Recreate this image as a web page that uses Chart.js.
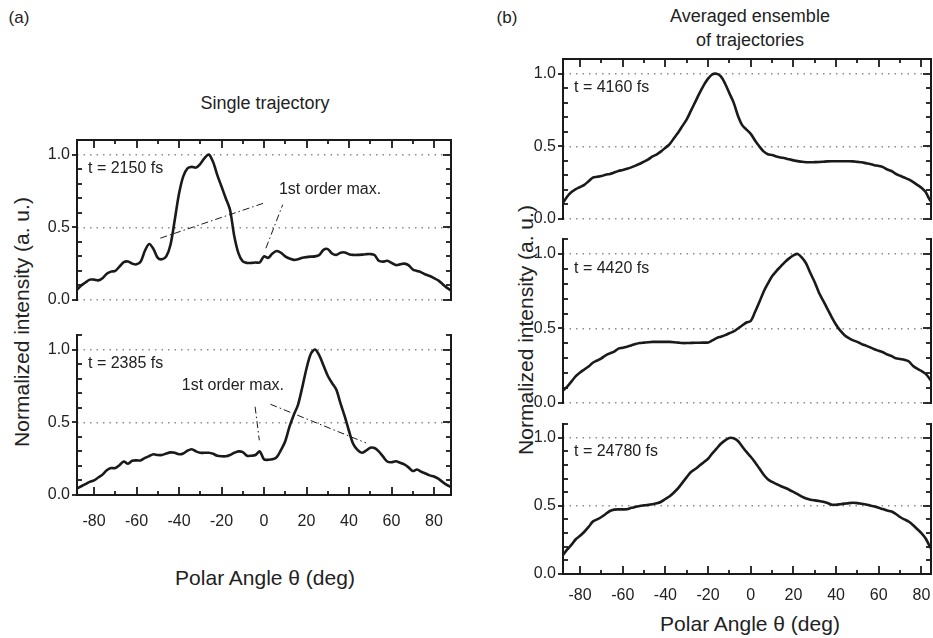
<!DOCTYPE html>
<html>
<head>
<meta charset="utf-8">
<script src="https://cdn.jsdelivr.net/npm/chart.js@4.4.1/dist/chart.umd.min.js"></script>
<style>
  body { margin: 0; background: #fff; font-family: "Liberation Sans", Arial, sans-serif; color: #222; }
  #page { position: relative; width: 933px; height: 638px; overflow: hidden; }
  canvas { position: absolute; }
  .lbl { position: absolute; white-space: nowrap; transform: translate(-50%, -50%); }
</style>
</head>
<body>
<div id="page">
  <div class="lbl" style="left:19px;top:18px;font-size:17px">(a)</div>
  <div class="lbl" style="left:507px;top:18px;font-size:17px">(b)</div>
  <div class="lbl" style="left:265px;top:103px;font-size:18px">Single trajectory</div>
  <div class="lbl" style="left:750px;top:16px;font-size:18px">Averaged ensemble</div>
  <div class="lbl" style="left:750px;top:40px;font-size:18px">of trajectories</div>
  <div class="lbl" style="left:22px;top:322px;font-size:21px;transform:translate(-50%,-50%) rotate(-90deg)">Normalized intensity (a. u.)</div>
  <div class="lbl" style="left:526px;top:330px;font-size:21px;transform:translate(-50%,-50%) rotate(-90deg)">Normalized intensity (a. u.)</div>
  <div class="lbl" style="left:265px;top:578px;font-size:21px">Polar Angle θ (deg)</div>
  <div class="lbl" style="left:750px;top:624px;font-size:21px">Polar Angle θ (deg)</div>
</div>
<script>
// polar angle samples (deg)
const angles = [-88,-86,-84,-82,-80,-78,-76,-74,-72,-70,-68,-66,-64,-62,-60,-58,-56,-54,-52,-50,
  -48,-46,-44,-42,-40,-38,-36,-34,-32,-30,-28,-26,-24,-22,-20,-18,-16,-14,-12,-10,-8,-6,-4,-2,
  0,2,4,6,8,10,12,14,16,18,20,22,24,26,28,30,32,34,36,38,40,42,44,46,48,50,52,54,56,58,60,
  62,64,66,68,70,72,74,76,78,80,82,84,86,88];

// (a) single trajectory
const single2150 = [0.07,0.10,0.12,0.14,0.14,0.135,0.15,0.18,0.195,0.20,0.23,0.26,0.265,0.25,0.245,0.265,0.34,0.385,0.35,0.29,
  0.28,0.30,0.38,0.55,0.73,0.85,0.905,0.915,0.91,0.935,0.975,1.0,0.95,0.86,0.78,0.70,0.62,0.44,0.32,0.265,0.255,0.255,0.258,0.258,
  0.30,0.29,0.32,0.337,0.325,0.30,0.285,0.276,0.28,0.29,0.295,0.298,0.30,0.31,0.345,0.35,0.32,0.31,0.325,0.327,0.315,0.31,0.31,0.312,0.315,0.316,0.31,0.27,0.264,0.27,0.255,
  0.24,0.245,0.25,0.24,0.21,0.20,0.19,0.175,0.165,0.15,0.135,0.11,0.085,0.065];
const single2385 = [0.045,0.06,0.075,0.09,0.10,0.12,0.14,0.17,0.185,0.185,0.205,0.23,0.215,0.235,0.238,0.238,0.255,0.268,0.28,0.275,
  0.275,0.285,0.293,0.29,0.28,0.285,0.305,0.315,0.30,0.29,0.29,0.29,0.283,0.27,0.266,0.266,0.275,0.29,0.30,0.295,0.27,0.27,0.275,0.30,
  0.245,0.242,0.245,0.26,0.31,0.37,0.47,0.55,0.62,0.74,0.87,0.97,1.0,0.96,0.89,0.82,0.77,0.725,0.63,0.54,0.44,0.35,0.31,0.29,0.305,0.325,0.323,0.30,0.265,0.23,0.225,
  0.232,0.222,0.21,0.19,0.165,0.175,0.16,0.148,0.135,0.127,0.112,0.09,0.07,0.055];

// (b) averaged ensemble
const avg4160 = [0.11,0.155,0.185,0.205,0.22,0.235,0.26,0.285,0.29,0.295,0.305,0.31,0.32,0.33,0.337,0.345,0.355,0.367,0.38,0.395,
  0.41,0.43,0.445,0.465,0.49,0.515,0.555,0.595,0.64,0.685,0.745,0.805,0.865,0.92,0.965,0.995,0.998,0.98,0.93,0.865,0.80,0.71,0.645,0.615,
  0.585,0.54,0.50,0.465,0.445,0.44,0.43,0.423,0.418,0.41,0.403,0.398,0.393,0.39,0.39,0.391,0.392,0.394,0.396,0.397,0.397,0.397,0.397,0.397,0.396,0.393,0.39,0.384,0.378,0.37,0.365,
  0.357,0.34,0.33,0.31,0.297,0.285,0.272,0.255,0.235,0.215,0.185,0.13,0.10,0.08];
const avg4420 = [0.085,0.11,0.145,0.18,0.205,0.225,0.245,0.27,0.285,0.30,0.32,0.333,0.345,0.365,0.37,0.378,0.386,0.395,0.402,0.405,
  0.408,0.41,0.41,0.41,0.41,0.41,0.408,0.405,0.402,0.402,0.403,0.404,0.404,0.405,0.406,0.42,0.435,0.445,0.455,0.468,0.48,0.50,0.52,0.54,
  0.55,0.61,0.675,0.745,0.80,0.85,0.885,0.915,0.945,0.97,0.99,1.0,0.975,0.935,0.87,0.81,0.74,0.685,0.63,0.575,0.525,0.485,0.455,0.435,0.42,0.41,0.395,0.385,0.373,0.36,0.35,
  0.34,0.325,0.315,0.30,0.295,0.29,0.28,0.25,0.23,0.215,0.195,0.16,0.12,0.09];
const avg24780 = [0.14,0.18,0.215,0.255,0.28,0.31,0.345,0.385,0.40,0.418,0.44,0.462,0.472,0.474,0.474,0.475,0.485,0.492,0.499,0.503,
  0.507,0.512,0.518,0.53,0.55,0.57,0.598,0.63,0.67,0.71,0.748,0.77,0.795,0.82,0.845,0.885,0.92,0.955,0.98,0.998,0.995,0.975,0.935,0.895,
  0.86,0.82,0.775,0.73,0.695,0.675,0.66,0.645,0.632,0.618,0.602,0.585,0.567,0.553,0.545,0.54,0.536,0.53,0.52,0.508,0.508,0.512,0.516,0.52,0.522,0.52,0.515,0.51,0.502,0.495,0.485,
  0.476,0.465,0.458,0.44,0.418,0.40,0.385,0.36,0.33,0.30,0.26,0.20,0.15,0.11];

// axis tick labels
const xTickLabels = [-80, -60, -40, -20, 0, 20, 40, 60, 80];
const yTickLabels = [0, 0.5, 1.0];

// panel layout (canvas position, frame sides, annotation text/lines in data units)
const panels = [
  { values: single2150, label: 't = 2150 fs', left: 30, top: 132, width: 429, height: 176, xMax: 88,
    topFrame: true, bottomAxis: false, xPad: 0, xAxisH: 0, padRight: 8,
    note: { text: '1st order max.', x: 7, y: 0.76 },
    arrows: [[-48.8, 0.425, 0.9, 0.671], [0.9, 0.356, 8.8, 0.655]] },
  { values: single2385, label: 't = 2385 fs', left: 30, top: 327, width: 429, height: 208, xMax: 88,
    topFrame: false, bottomAxis: true, xPad: 17, xAxisH: 40, padRight: 8,
    note: { text: '1st order max.', x: -38.7, y: 0.755 },
    arrows: [[-4.2, 0.607, -2.2, 0.376], [3, 0.624, 48, 0.358]] },
  { values: avg4160, label: 't = 4160 fs', left: 516, top: 51, width: 417, height: 176, xMax: 84.5,
    topFrame: true, bottomAxis: false, xPad: 0, xAxisH: 0, padRight: 2, arrows: [] },
  { values: avg4420, label: 't = 4420 fs', left: 516, top: 231, width: 417, height: 180, xMax: 84.5,
    topFrame: false, bottomAxis: false, xPad: 0, xAxisH: 0, padRight: 2, arrows: [] },
  { values: avg24780, label: 't = 24780 fs', left: 516, top: 416, width: 417, height: 192, xMax: 84.5,
    topFrame: false, bottomAxis: true, xPad: 12, xAxisH: 34, padRight: 2, arrows: [] }
];

const ink = '#1a1a1a';
const fontFamily = '"Liberation Sans", Arial, sans-serif';

function line(ctx, x1, y1, x2, y2) {
  ctx.beginPath();
  ctx.moveTo(x1, y1);
  ctx.lineTo(x2, y2);
  ctx.stroke();
}

// frame, inward/outward tick marks and annotations for one panel
function makeFramePlugin(p) {
  return {
    id: 'frame',
    afterDraw(chart) {
      const { ctx, chartArea: a, scales: { x, y } } = chart;
      ctx.save();
      ctx.strokeStyle = ink;
      ctx.lineWidth = 2;
      line(ctx, a.left, a.top - 1, a.left, a.bottom + 1);
      line(ctx, a.right, a.top - 1, a.right, a.bottom + 1);
      if (p.topFrame) line(ctx, a.left - 1, a.top, a.right + 1, a.top);
      if (p.bottomAxis) line(ctx, a.left - 1, a.bottom, a.right + 1, a.bottom);

      // y ticks: major outward on the left, minor inward
      ctx.lineWidth = 1.8;
      for (let k = 0; k <= 11; k++) {
        const py = Math.round(y.getPixelForValue(k / 10));
        if (k % 5 === 0) {
          line(ctx, a.left - 5, py, a.left, py);
          line(ctx, a.right - 8, py, a.right, py);
        } else {
          line(ctx, a.left, py, a.left + 5, py);
          line(ctx, a.right - 5, py, a.right, py);
        }
      }
      // x ticks every 10 deg
      for (let d = -80; d <= 80; d += 10) {
        const px = Math.round(x.getPixelForValue(d));
        const len = d % 20 === 0 ? 8 : 4;
        if (p.topFrame) line(ctx, px, a.top, px, a.top + len);
        if (p.bottomAxis) line(ctx, px, a.bottom, px, a.bottom - len);
      }

      ctx.fillStyle = '#222';
      ctx.font = '16px ' + fontFamily;
      ctx.textBaseline = 'middle';
      ctx.textAlign = 'left';
      ctx.fillText(p.label, a.left + 11, y.getPixelForValue(0.9));
      if (p.note) {
        ctx.fillText(p.note.text, x.getPixelForValue(p.note.x), y.getPixelForValue(p.note.y));
      }
      ctx.lineWidth = 1;
      ctx.setLineDash([7, 3, 1.5, 3]);
      p.arrows.forEach(([x1, y1, x2, y2]) => {
        line(ctx, x.getPixelForValue(x1), y.getPixelForValue(y1), x.getPixelForValue(x2), y.getPixelForValue(y2));
      });
      ctx.restore();
    }
  };
}

panels.forEach((p) => {
  const canvas = document.createElement('canvas');
  canvas.width = p.width;
  canvas.height = p.height;
  canvas.style.left = p.left + 'px';
  canvas.style.top = p.top + 'px';
  document.getElementById('page').appendChild(canvas);

  new Chart(canvas, {
    type: 'line',
    data: {
      datasets: [{
        data: angles.map((a, i) => ({ x: a, y: p.values[i] })),
        borderColor: ink,
        borderWidth: 2.6,
        pointRadius: 0,
        tension: 0.3
      }]
    },
    options: {
      responsive: false,
      animation: false,
      devicePixelRatio: 1,
      layout: { autoPadding: false, padding: { top: 8, right: p.padRight, left: 0, bottom: p.bottomAxis ? 0 : 8 } },
      plugins: { legend: { display: false }, tooltip: { enabled: false } },
      scales: {
        x: {
          type: 'linear',
          min: -88,
          max: p.xMax,
          display: p.bottomAxis,
          afterBuildTicks: (s) => { s.ticks = xTickLabels.map((v) => ({ value: v })); },
          afterFit: (s) => { s.height = p.xAxisH; s.paddingLeft = 0; s.paddingRight = 0; },
          grid: { display: false, drawTicks: false },
          border: { display: false },
          ticks: { padding: p.xPad, color: '#222', maxRotation: 0, font: { family: fontFamily, size: 16 } }
        },
        y: {
          min: 0,
          max: 1.1,
          afterBuildTicks: (s) => { s.ticks = yTickLabels.map((v) => ({ value: v })); },
          afterFit: (s) => { s.width = 47; s.paddingTop = 0; s.paddingBottom = 0; },
          grid: { color: '#8c8c8c', lineWidth: 1.4, drawTicks: false },
          border: { display: false, dash: [1.5, 5] },
          ticks: {
            padding: 7,
            color: '#222',
            font: { family: fontFamily, size: 16 },
            callback: (v) => Number(v).toFixed(1)
          }
        }
      }
    },
    plugins: [makeFramePlugin(p)]
  });
});
</script>
</body>
</html>
